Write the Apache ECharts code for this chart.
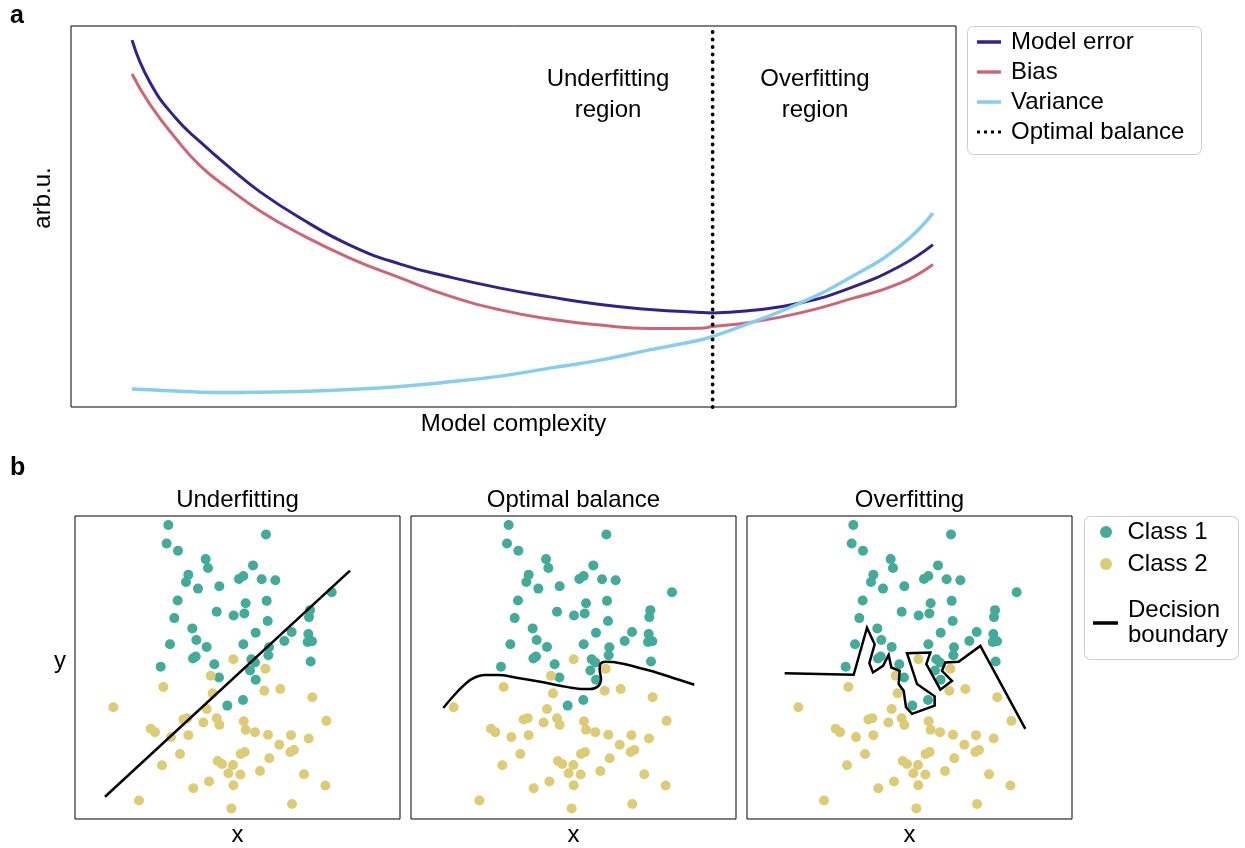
<!DOCTYPE html>
<html style="height: 100%">
<head>
<meta charset="utf-8">
</head>
<body style="height: 100%; margin: 0; background: #fff">
<div id="container" style="width: 1245px; height: 848px"></div>
<script src="https://cdn.jsdelivr.net/npm/echarts@6/dist/echarts.min.js"></script>
<script>
// panel a: bias-variance curves (arbitrary units, 0..10 on both axes)
var complexity = [0.69, 0.89, 1.18, 1.46, 1.80, 2.14, 2.59, 3.15, 3.72, 4.28, 4.85, 5.41, 5.98, 6.54, 7.11, 7.25, 7.67, 8.24, 8.80, 9.37, 9.74];
var modelError = [9.63, 8.53, 7.59, 6.96, 6.27, 5.64, 4.96, 4.25, 3.75, 3.41, 3.12, 2.89, 2.69, 2.56, 2.48, 2.47, 2.53, 2.73, 3.12, 3.70, 4.26];
var bias = [8.74, 7.95, 7.06, 6.33, 5.70, 5.14, 4.54, 3.91, 3.39, 2.91, 2.55, 2.31, 2.15, 2.06, 2.07, 2.11, 2.22, 2.47, 2.83, 3.25, 3.74];
var variance = [0.47, 0.45, 0.42, 0.39, 0.38, 0.39, 0.41, 0.46, 0.54, 0.66, 0.81, 1.02, 1.23, 1.50, 1.76, 1.85, 2.20, 2.73, 3.39, 4.23, 5.09];
var optimalX = 7.25;

// panel b: two classes, same points in all three sub-plots
var class1X = [-1.65, 1.28, -1.70, -1.36, -0.53, -0.46, 0.89, -1.05, -1.12, -0.76, -0.12, 0.47, 0.60, 1.15, 1.56, 3.25, -1.37, 0.67, 1.30, -0.20, 0.31, 0.63, -1.47, 1.33, 2.60, 2.57, -0.93, 0.97, 2.05, 2.55, -0.81, -1.60, -0.50, 0.60, 1.83, 2.53, 2.66, 1.37, 1.35, -0.91, -0.83, 0.84, 0.95, -0.27, -1.88, 0.80, -0.13, 0.97, 2.62, 0.12, 0.59];
var class1Y = [5.55, 5.26, 4.99, 4.77, 4.52, 4.25, 4.33, 4.05, 3.83, 3.63, 3.70, 3.92, 4.01, 3.91, 3.88, 3.52, 3.27, 3.19, 3.26, 2.93, 2.82, 2.88, 2.74, 2.65, 2.98, 2.77, 2.43, 2.30, 2.32, 2.26, 2.08, 1.95, 1.87, 1.95, 2.05, 2.02, 2.04, 1.86, 1.62, 1.52, 1.58, 1.50, 1.40, 1.35, 1.27, 1.16, 0.95, 0.88, 1.43, 0.10, 0.27];
var class2X = [0.30, 1.26, -0.38, -1.80, -0.32, 1.23, 1.71, 2.67, -3.30, -0.50, -1.20, -1.08, -0.60, -0.20, -0.12, 0.61, 0.67, 0.95, -2.18, -2.05, -1.57, -1.05, 1.34, 2.03, 2.56, 3.09, 1.68, 2.01, 2.12, 0.52, 0.64, -1.30, -1.84, -0.17, -0.04, 0.29, 0.15, 0.51, 1.38, 1.10, 2.42, -0.90, -0.43, 0.30, 3.06, -2.53, 0.24, 2.06];
var class2Y = [1.50, 1.21, 1.00, 0.66, 0.47, 0.55, 0.60, 0.35, 0.05, 0.00, -0.32, -0.28, -0.41, -0.28, -0.48, -0.37, -0.63, -0.70, -0.60, -0.70, -0.85, -0.79, -0.78, -0.79, -0.89, -0.36, -1.08, -1.30, -1.24, -1.36, -1.30, -1.36, -1.70, -1.57, -1.66, -1.69, -1.94, -1.98, -1.49, -1.87, -1.97, -2.39, -2.19, -2.30, -2.31, -2.76, -3.00, -2.87];

// decision boundaries
var underfitX = [-3.55, 3.80];
var underfitY = [-2.65, 4.17];
var balancedX = [-3.61, -3.36, -3.06, -2.76, -2.36, -1.96, -1.46, -0.70, -0.10, 0.44, 0.80, 1.05, 1.12, 1.08, 1.10, 1.25, 1.70, 2.60, 3.24, 3.92];
var balancedY = [0.03, 0.33, 0.65, 0.90, 1.02, 1.02, 0.95, 0.82, 0.70, 0.61, 0.60, 0.70, 0.90, 1.20, 1.35, 1.42, 1.38, 1.15, 0.95, 0.73];
var overfitX = [-3.71, -1.64, -1.24, -1.01, -1.17, -1.06, -0.76, -0.59, -0.51, -0.26, -0.29, -0.14, -0.07, 0.11, 0.79, 0.79, 0.26, -0.04, 0.66, 0.54, 0.96, 1.31, 1.01, 1.11, 1.51, 2.16, 3.51];
var overfitY = [1.08, 1.03, 2.45, 1.95, 1.38, 1.10, 1.30, 1.63, 1.25, 1.15, 0.75, 0.55, 0.05, -0.15, 0.10, 0.38, 0.75, 1.68, 1.70, 1.35, 0.58, 0.85, 1.15, 1.40, 1.42, 1.90, -0.60];

var panelTitles = ['Underfitting', 'Optimal balance', 'Overfitting'];

function zip(xs, ys) {
    return xs.map(function (x, i) { return [x, ys[i]]; });
}

var FONT = '"Liberation Sans", Arial, Helvetica, sans-serif';
var INDIGO = '#332288', ROSE = '#CC6677', CYAN = '#88CCEE', TEAL = '#44AA99', SAND = '#DDCC77';

var chart = echarts.init(document.getElementById('container'));

var boxGrid = {show: true, borderColor: '#000', borderWidth: 1, containLabel: false};
var grids = [
    Object.assign({left: 71, top: 26, width: 885, height: 381}, boxGrid),
    Object.assign({left: 75, top: 516, width: 325, height: 305}, boxGrid),
    Object.assign({left: 411, top: 516, width: 325, height: 305}, boxGrid),
    Object.assign({left: 747, top: 516, width: 325, height: 305}, boxGrid)
];
var xRanges = [[0, 10], [-4.45, 5.30], [-4.58, 5.17], [-4.84, 4.91]];
var yRanges = [[0, 10], [-3.32, 5.82], [-3.32, 5.82], [-3.32, 5.82]];

function bareAxis(i, range, name, gap) {
    return {
        type: 'value', gridIndex: i, min: range[0], max: range[1],
        axisLine: {show: false}, axisTick: {show: false},
        axisLabel: {show: false}, splitLine: {show: false},
        name: name || '', nameLocation: 'middle', nameGap: gap || 0,
        nameTextStyle: {fontSize: 24, lineHeight: 24, color: '#000', fontFamily: FONT}
    };
}

var xAxes = [bareAxis(0, xRanges[0], 'Model complexity', 5)];
var yAxes = [bareAxis(0, yRanges[0])];
for (var i = 1; i <= 3; i++) {
    xAxes.push(bareAxis(i, xRanges[i], 'x', 4));
    yAxes.push(bareAxis(i, yRanges[i]));
}

function curve(name, ys, color, width) {
    return {name: name, type: 'line', xAxisIndex: 0, yAxisIndex: 0, data: zip(complexity, ys),
        smooth: true, showSymbol: false, color: color,
        itemStyle: {color: color}, lineStyle: {color: color, width: width}};
}

var series = [
    curve('Model error', modelError, INDIGO, 3),
    curve('Bias', bias, ROSE, 3),
    curve('Variance', variance, CYAN, 3.5),
    {name: 'Optimal balance', type: 'line', xAxisIndex: 0, yAxisIndex: 0, data: [[optimalX, 0], [optimalX, 10]],
     showSymbol: false, color: '#000', itemStyle: {color: '#000'}, z: 5,
     lineStyle: {color: '#000', width: 3.8, type: [0, 7.5], cap: 'round'}}
];

var boundaries = [zip(underfitX, underfitY), zip(balancedX, balancedY), zip(overfitX, overfitY)];
for (var p = 1; p <= 3; p++) {
    series.push({name: 'Class 1', type: 'scatter', xAxisIndex: p, yAxisIndex: p, data: zip(class1X, class1Y),
        symbolSize: 10, itemStyle: {color: TEAL, opacity: 1}});
    series.push({name: 'Class 2', type: 'scatter', xAxisIndex: p, yAxisIndex: p, data: zip(class2X, class2Y),
        symbolSize: 10, itemStyle: {color: SAND, opacity: 1}});
    series.push({name: 'Decision boundary', type: 'line', xAxisIndex: p, yAxisIndex: p, data: boundaries[p - 1],
        smooth: p === 2 ? 0.35 : false, showSymbol: false, symbol: 'none', z: 4,
        color: '#000', itemStyle: {color: '#000'}, lineStyle: {color: '#000', width: 2.5, join: 'miter'}});
}

var legendText = {fontSize: 24, lineHeight: 24, color: '#000', fontFamily: FONT};
var BOLD = 'bold 25px ' + FONT;

var graphic = [
    {type: 'text', x: 10, y: 16, style: {text: 'a', font: BOLD, fontWeight: 'bold', fontSize: 25, fontFamily: FONT, fill: '#000', align: 'left', verticalAlign: 'middle'}},
    {type: 'text', x: 10, y: 468, style: {text: 'b', font: BOLD, fontWeight: 'bold', fontSize: 25, fontFamily: FONT, fill: '#000', align: 'left', verticalAlign: 'middle'}},
    {type: 'text', x: 608, y: 95, style: {text: 'Underfitting\nregion', fontSize: 24, lineHeight: 31, fontFamily: FONT, fill: '#000', align: 'center', verticalAlign: 'middle'}},
    {type: 'text', x: 815, y: 95, style: {text: 'Overfitting\nregion', fontSize: 24, lineHeight: 31, fontFamily: FONT, fill: '#000', align: 'center', verticalAlign: 'middle'}},
    {type: 'text', x: 43, y: 198, rotation: Math.PI / 2, style: {text: 'arb.u.', fontSize: 24, fontFamily: FONT, fill: '#000', align: 'center', verticalAlign: 'middle'}},
    {type: 'text', x: 60, y: 661, style: {text: 'y', fontSize: 24, fontFamily: FONT, fill: '#000', align: 'center', verticalAlign: 'middle'}},
    {type: 'rect', shape: {x: 967.5, y: 26.5, width: 234, height: 128, r: 6}, style: {fill: 'none', stroke: '#cccccc', lineWidth: 1}},
    {type: 'rect', shape: {x: 1084.5, y: 516.5, width: 154, height: 143, r: 6}, style: {fill: 'none', stroke: '#cccccc', lineWidth: 1}}
];
var centers = [237.5, 573.5, 909.5];
panelTitles.forEach(function (t, k) {
    graphic.push({type: 'text', x: centers[k], y: 500, style: {text: t, fontSize: 24, fontFamily: FONT, fill: '#000', align: 'center', verticalAlign: 'middle'}});
});

var option = {
    animation: false,
    backgroundColor: '#fff',
    grid: grids,
    xAxis: xAxes,
    yAxis: yAxes,
    legend: [
        {
            left: 977, top: 30, padding: 0, orient: 'vertical', itemWidth: 24, itemHeight: 3.5, itemGap: 6,
            selectedMode: false, itemStyle: {borderWidth: 0},
            data: [
                {name: 'Model error', icon: 'rect'},
                {name: 'Bias', icon: 'rect'},
                {name: 'Variance', icon: 'rect'},
                {name: 'Optimal balance', icon: 'path://M0,0h3v3h-3zM7,0h3v3h-3zM14,0h3v3h-3zM21,0h3v3h-3z'}
            ],
            textStyle: Object.assign({padding: [0, 0, 0, 5]}, legendText)
        },
        {
            left: 1100, top: 520, padding: 0, orient: 'vertical', itemWidth: 23, itemHeight: 12, itemGap: 8,
            selectedMode: false, itemStyle: {borderWidth: 0},
            data: [{name: 'Class 1', icon: 'circle'}, {name: 'Class 2', icon: 'circle'}],
            textStyle: Object.assign({padding: [0, 0, 0, 5]}, legendText)
        },
        {
            left: 1093, top: 598, padding: 0, orient: 'vertical', itemWidth: 25, itemHeight: 3.5,
            selectedMode: false, itemStyle: {borderWidth: 0},
            data: [{name: 'Decision boundary', icon: 'rect'}],
            formatter: function () { return 'Decision\nboundary'; },
            textStyle: {fontSize: 24, lineHeight: 25, color: '#000', fontFamily: FONT, padding: [0, 0, 0, 5]}
        }
    ],
    graphic: graphic,
    series: series
};

chart.setOption(option);
</script>
</body>
</html>
